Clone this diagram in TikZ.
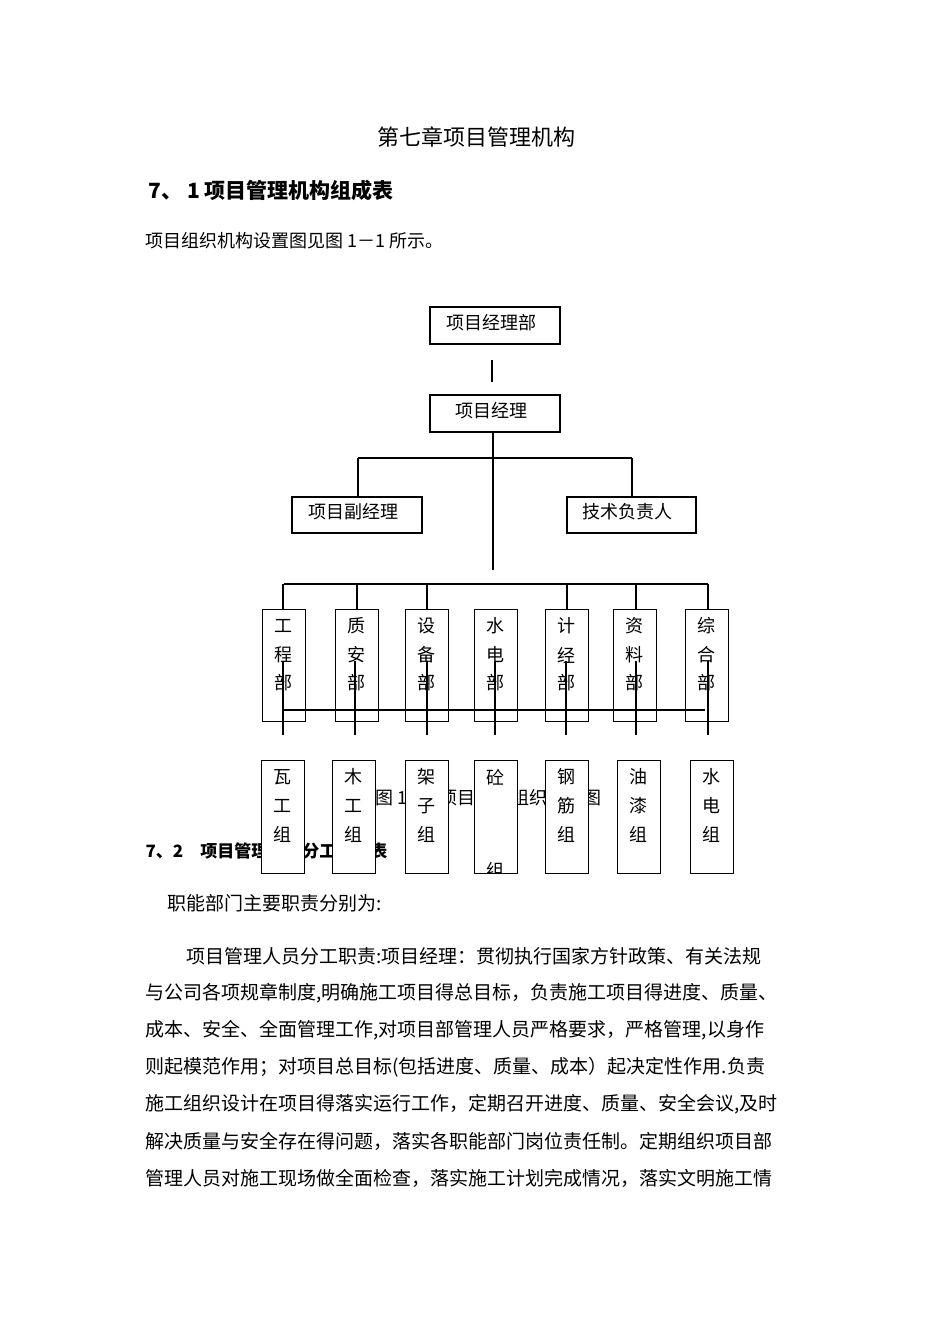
\documentclass[tikz,border=0pt]{standalone}
\usepackage{fontspec}
\setmainfont{Noto Sans CJK SC}
\begin{document}
\begin{tikzpicture}[x=1pt,y=-1pt,line width=1.1pt,
  box/.style={draw,fill=white,inner sep=0pt},
  tx/.style={anchor=west,inner sep=0pt,font=\fontsize{18}{20}\selectfont},
  bd/.style={anchor=west,inner sep=0pt,font=\fontsize{19}{20}\selectfont},
  ch/.style={inner sep=0pt,font=\fontsize{18}{20}\selectfont}]
\useasboundingbox[fill=white] (0,0) rectangle (950,1344);
\node[ch,font=\fontsize{22}{24}\selectfont] (title) at (476,137) {第七章项目管理机构};
\node[tx,font=\bfseries\fontsize{21}{24}\selectfont] (h1) at (148,190) {7、 1 项目管理机构组成表};
\node[tx] (p0) at (145,241) {项目组织机构设置图见图 1－1 所示。};
% caption and heading behind boxes
\node[tx] (cap) at (375,798) {图 1－1 项目管理组织机构图};
\node[tx,font=\bfseries\fontsize{17}{20}\selectfont] (h2) at (145,851) {7、2\quad 项目管理机构分工安排表};
% top
\node[box,minimum width=130,minimum height=37] (pm) at (495,325.5) {};
\node[ch] at (491,323) {项目经理部};
\node[box,minimum width=130,minimum height=37] (mgr) at (495,413.5) {};
\node[ch] at (491,411) {项目经理};
\coordinate (g1) at (492,360); \coordinate (g2) at (492,382);
\draw (g1) -- (g2);
\node[box,minimum width=130,minimum height=36] (dep) at (357,515) {};
\node[ch] at (353,512) {项目副经理};
\node[box,minimum width=129,minimum height=36] (tech) at (631.5,515) {};
\node[ch] at (627,512) {技术负责人};
\coordinate (h1l) at (358,458); \coordinate (h1r) at (632,458); \coordinate (c1) at (493,458);
\draw (h1l) -- (h1r);
\draw (h1l) -- (dep.north -| h1l);
\draw (h1r) -- (tech.north -| h1r);
\draw (mgr.south -| c1) -- (493,570);
% departments
\coordinate (h2l) at (284,584); \coordinate (h2r) at (708,584);
\draw (h2l) -- (h2r);
\foreach \x/\l/\a/\b/\c in {262/283/工/程/部,335/357/质/安/部,405/427/设/备/部,474/495/水/电/部,545/567/计/经/部,613/636/资/料/部,685/708/综/合/部}{
  \node[box,minimum width=43,minimum height=112,anchor=north west] (d\x) at (\x,609) {};
  \node[ch] at (\x+21.5,626) {\a};
  \node[ch] at (\x+21.5,655) {\b};
  \node[ch] at (\x+21.5,683) {\c};
}
\foreach \x in {283,357,427,567,636,708}{\draw (\x,584) -- (\x,609);}
\foreach \x in {283,355,427,495,566,636,708}{\draw (\x,661) -- (\x,735);}
\coordinate (h3l) at (284,710); \coordinate (h3r) at (705,710);
\draw (h3l) -- (h3r);
% groups
\foreach \x/\a/\b/\c in {261/瓦/工/组,332/木/工/组,405/架/子/组,545/钢/筋/组,617/油/漆/组,690/水/电/组}{
  \node[box,minimum width=43,minimum height=113,anchor=north west] (g\x) at (\x,760) {};
  \node[ch] at (\x+21.5,777) {\a};
  \node[ch] at (\x+21.5,806) {\b};
  \node[ch] at (\x+21.5,834) {\c};
}
\node[box,minimum width=43,minimum height=113,anchor=north west] (g474) at (474,760) {};
\node[ch] at (495.5,777) {砼};
\begin{scope}
\clip (475,850) rectangle (516,872);
\node[ch] at (495.5,870) {组};
\end{scope}
% body
\node[bd] (b0) at (167,903) {职能部门主要职责分别为:};
\node[bd] (b1) at (186,956) {项目管理人员分工职责:项目经理：贯彻执行国家方针政策、有关法规};
\node[bd] (b2) at (145,993) {与公司各项规章制度,明确施工项目得总目标，负责施工项目得进度、质量、};
\node[bd] (b3) at (145,1030) {成本、安全、全面管理工作,对项目部管理人员严格要求，严格管理,以身作};
\node[bd] (b4) at (145,1067) {则起模范作用；对项目总目标(包括进度、质量、成本）起决定性作用.负责};
\node[bd] (b5) at (145,1104) {施工组织设计在项目得落实运行工作，定期召开进度、质量、安全会议,及时};
\node[bd] (b6) at (145,1141) {解决质量与安全存在得问题，落实各职能部门岗位责任制。定期组织项目部};
\node[bd] (b7) at (145,1178) {管理人员对施工现场做全面检查，落实施工计划完成情况，落实文明施工情};
\end{tikzpicture}
\end{document}
